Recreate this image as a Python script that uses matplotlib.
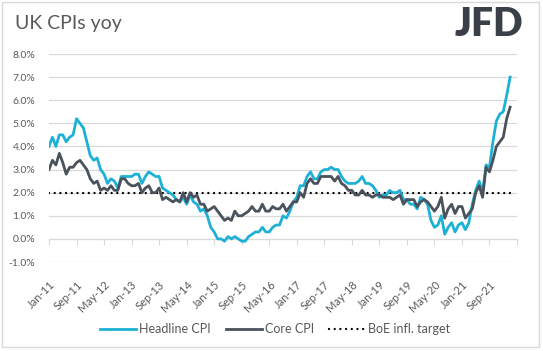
import matplotlib.pyplot as plt
import matplotlib.ticker as mticker
from matplotlib.patches import Rectangle

plt.rcParams['font.family'] = ['Lato', 'DejaVu Sans']

# monthly, Jan-11 .. Mar-22
headline_cpi = [
    4.0, 4.4, 4.0, 4.5, 4.5, 4.2, 4.4, 4.5, 5.2, 5.0, 4.8, 4.2,   # 2011
    3.6, 3.4, 3.5, 3.0, 2.8, 2.4, 2.6, 2.5, 2.2, 2.7, 2.7, 2.7,   # 2012
    2.7, 2.8, 2.8, 2.4, 2.7, 2.9, 2.8, 2.7, 2.7, 2.2, 2.1, 2.0,   # 2013
    1.9, 1.7, 1.6, 1.8, 1.5, 1.9, 1.6, 1.5, 1.2, 1.3, 1.0, 0.5,   # 2014
    0.3, 0.0, 0.0, -0.1, 0.1, 0.0, 0.1, 0.0, -0.1, -0.1, 0.1, 0.2,  # 2015
    0.3, 0.3, 0.5, 0.3, 0.3, 0.5, 0.6, 0.6, 1.0, 0.9, 1.2, 1.6,   # 2016
    1.8, 2.3, 2.3, 2.7, 2.9, 2.6, 2.6, 2.9, 3.0, 3.0, 3.1, 3.0,   # 2017
    3.0, 2.7, 2.5, 2.4, 2.4, 2.4, 2.5, 2.7, 2.4, 2.4, 2.3, 2.1,   # 2018
    1.8, 1.9, 1.9, 2.1, 2.0, 2.0, 2.1, 1.7, 1.7, 1.5, 1.5, 1.3,   # 2019
    1.8, 1.7, 1.5, 0.8, 0.5, 0.6, 1.0, 0.2, 0.5, 0.7, 0.3, 0.6,   # 2020
    0.7, 0.4, 0.7, 1.5, 2.1, 2.5, 2.0, 3.2, 3.1, 4.2, 5.1, 5.4,   # 2021
    5.5, 6.2, 7.0,                                                # 2022
]
core_cpi = [
    3.0, 3.4, 3.2, 3.7, 3.3, 2.8, 3.1, 3.1, 3.3, 3.4, 3.2, 3.0,
    2.6, 2.4, 2.5, 2.1, 2.2, 2.1, 2.3, 2.1, 2.1, 2.6, 2.6, 2.4,
    2.3, 2.3, 2.4, 2.0, 2.2, 2.3, 2.0, 2.0, 2.2, 1.7, 1.8, 1.7,
    1.6, 1.7, 1.6, 2.0, 1.6, 2.0, 1.8, 1.9, 1.5, 1.5, 1.2, 1.3,
    1.4, 1.2, 1.0, 0.8, 0.9, 0.8, 1.2, 1.0, 1.0, 1.1, 1.2, 1.4,
    1.2, 1.2, 1.5, 1.2, 1.2, 1.4, 1.3, 1.3, 1.5, 1.2, 1.4, 1.6,
    1.6, 2.0, 1.8, 2.4, 2.6, 2.4, 2.4, 2.7, 2.7, 2.7, 2.7, 2.5,
    2.7, 2.4, 2.3, 2.1, 2.1, 1.9, 1.9, 2.1, 1.9, 1.9, 1.8, 1.9,
    1.9, 1.8, 1.8, 1.8, 1.7, 1.8, 1.9, 1.5, 1.7, 1.7, 1.7, 1.4,
    1.6, 1.7, 1.6, 1.4, 1.2, 1.4, 1.8, 0.9, 1.3, 1.5, 1.1, 1.4,
    1.4, 0.9, 1.1, 1.3, 2.0, 2.3, 1.8, 3.1, 2.9, 3.4, 4.0, 4.2,
    4.4, 5.2, 5.7,
]
boe_target = 2.0
tick_labels = ['Jan-11', 'Sep-11', 'May-12', 'Jan-13', 'Sep-13', 'May-14', 'Jan-15',
               'Sep-15', 'May-16', 'Jan-17', 'Sep-17', 'May-18', 'Jan-19', 'Sep-19',
               'May-20', 'Jan-21', 'Sep-21', '']

months = list(range(len(headline_cpi)))
text_gray = '#595959'

fig = plt.figure(figsize=(5.43, 3.51), dpi=100)
ax = fig.add_axes([49 / 543, 1 - 262 / 351, (517 - 49) / 543, (262 - 54) / 351])

ax.plot(months, [boe_target] * len(months), color='black', lw=1.7, ls=(0, (0.01, 2.4)),
        dash_capstyle='round', label='BoE infl. target', zorder=2.5)
ax.plot(months, headline_cpi, color='#1DB1D6', lw=2.0, label='Headline CPI', zorder=3)
ax.plot(months, core_cpi, color='#4A525C', lw=2.0, label='Core CPI', zorder=4)

ax.set_xlim(0, 136)
ax.set_ylim(-1, 8)
ax.yaxis.set_major_locator(mticker.MultipleLocator(1))
ax.yaxis.set_major_formatter(mticker.FuncFormatter(lambda v, p: f'{v:.1f}%'))
ax.grid(axis='y', color='#D9D9D9', lw=0.9)
ax.set_axisbelow(True)

for s in ['top', 'right', 'left']:
    ax.spines[s].set_visible(False)
ax.spines['bottom'].set_position(('data', 0))
ax.spines['bottom'].set_color('#D9D9D9')
ax.spines['bottom'].set_zorder(2)

ax.set_xticks(range(0, 137, 8))
ax.set_xticklabels(tick_labels, rotation=45, ha='right', rotation_mode='anchor')
ax.tick_params(axis='x', length=4, color='#D9D9D9', pad=25, labelsize=8, labelcolor=text_gray)
ax.tick_params(axis='y', length=0, pad=10, labelsize=7.5, labelcolor=text_gray)

handles, labels = ax.get_legend_handles_labels()
order = [1, 2, 0]
leg = fig.legend([handles[i] for i in order], [labels[i] for i in order],
                 loc='center', bbox_to_anchor=(275 / 543, 1 - 329 / 351), ncol=3, frameon=False,
                 fontsize=9, handlelength=2.9, handletextpad=0.25, columnspacing=1.2)
for t in leg.get_texts():
    t.set_color(text_gray)

fig.text(15 / 543, 1 - 24 / 351, 'UK CPIs yoy', fontsize=14, color=text_gray,
         va='center', ha='left')
fig.text(523 / 543, 1 - 24 / 351, 'JFD', fontsize=28, color='#3B4048',
         fontweight='heavy', va='center', ha='right')

fig.patches.append(Rectangle((2 / 543, 4 / 351), 537 / 543, 345 / 351, transform=fig.transFigure,
                             fill=False, edgecolor='#D9D9D9', lw=1))

fig.savefig('out.png', dpi=100)
